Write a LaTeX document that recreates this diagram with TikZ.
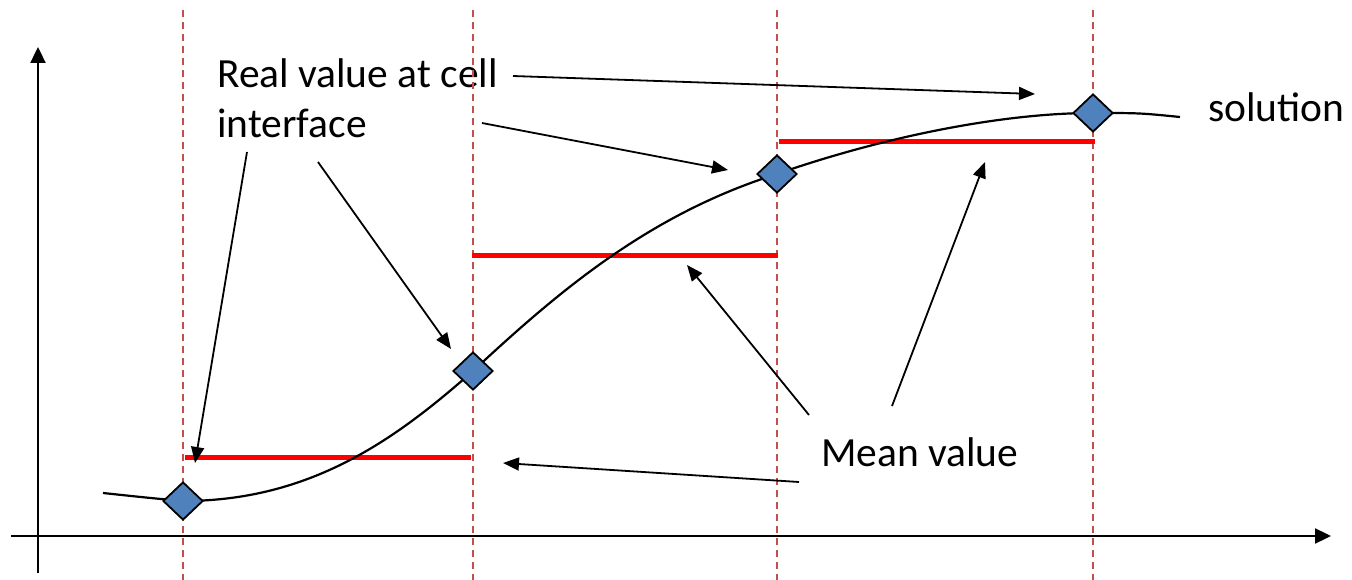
\documentclass[tikz,border=0pt]{standalone}
\usepackage{fontspec}
\setmainfont{Carlito}
\usetikzlibrary{arrows.meta,shapes.geometric}
\definecolor{dashred}{HTML}{C0504D}
\definecolor{dblue}{HTML}{4F81BD}
\begin{document}
\begin{tikzpicture}[x=1pt,y=-1pt,
  axis/.style={line width=2.3pt,-{Triangle[length=16pt,width=15pt]}},
  ptr/.style={line width=1.8pt,-{Triangle[length=16pt,width=13pt]}},
  cellline/.style={dashred,line width=2.5pt,dash pattern=on 7pt off 5pt},
  meanline/.style={red,line width=5pt},
  curvestyle/.style={line width=2.2pt},
  dia/.style={diamond,draw=black,line width=1.8pt,fill=dblue,minimum width=40pt,minimum height=38pt,inner sep=0pt},
  lbl/.style={font=\fontsize{41.5}{49}\selectfont,inner sep=0pt}]
\useasboundingbox (0,0) rectangle (1352,580);
% texts
\node[lbl,anchor=base west] (real1) at (217,88) {Real value at cell};
\node[lbl,anchor=base west] (real2) at (217,138) {interface};
\node[lbl,anchor=base west] (mean) at (821,466) {Mean value};
\node[lbl,anchor=base west] (sol) at (1208,122) {solution};
% axes
\coordinate (yb) at (38,573);
\coordinate (yt) at (38,47);
\coordinate (xl) at (11,536);
\coordinate (xr) at (1331,536);
\draw[axis] (yb) -- (yt);
\draw[axis] (xl) -- (xr);
% cell interfaces
\foreach \i/\x in {1/183,2/473,3/777,4/1093}{
  \coordinate (top\i) at (\x,10);
  \coordinate (bot\i) at (\x,580);
  \draw[cellline] (top\i) -- (bot\i);
}
% mean values
\coordinate (r1a) at (185,457); \coordinate (r1b) at (471,457);
\coordinate (r2a) at (472,255); \coordinate (r2b) at (778,255);
\coordinate (r3a) at (779,142); \coordinate (r3b) at (1095,142);
\draw[meanline] (r1a) -- (r1b);
\draw[meanline] (r2a) -- (r2b);
\draw[meanline] (r3a) -- (r3b);
% solution curve
\coordinate (c0) at (103,493);
\coordinate (c1) at (183,501);
\coordinate (c2) at (473,371);
\coordinate (c3) at (777,174);
\coordinate (c4) at (1093,113);
\coordinate (c5) at (1180,117);
\draw[curvestyle] (c0) .. controls (150,498) .. (c1)
  .. controls (310,501) and (395,440) .. (c2)
  .. controls (560,290) and (650,214) .. (c3)
  .. controls (880,138) and (1000,113) .. (c4)
  .. controls (1140,113) .. (c5);
% diamonds
\node[dia] (d1) at (c1) {};
\node[dia] (d2) at (c2) {};
\node[dia] (d3) at (c3) {};
\node[dia] (d4) at (c4) {};
% pointers
\coordinate (a1s) at (513,76);  \coordinate (a1e) at (1035,94);
\coordinate (a2s) at (482,123); \coordinate (a2e) at (728,170);
\coordinate (a3s) at (247,152); \coordinate (a3e) at (195,463);
\coordinate (a4s) at (318,162); \coordinate (a4e) at (451,349);
\coordinate (m1s) at (799,482); \coordinate (m1e) at (503,463);
\coordinate (m2s) at (809,415); \coordinate (m2e) at (687,265);
\coordinate (m3s) at (892,406); \coordinate (m3e) at (985,162);
\draw[ptr] (a1s) -- (a1e);
\draw[ptr] (a2s) -- (a2e);
\draw[ptr] (a3s) -- (a3e);
\draw[ptr] (a4s) -- (a4e);
\draw[ptr] (m1s) -- (m1e);
\draw[ptr] (m2s) -- (m2e);
\draw[ptr] (m3s) -- (m3e);
\end{tikzpicture}
\end{document}
